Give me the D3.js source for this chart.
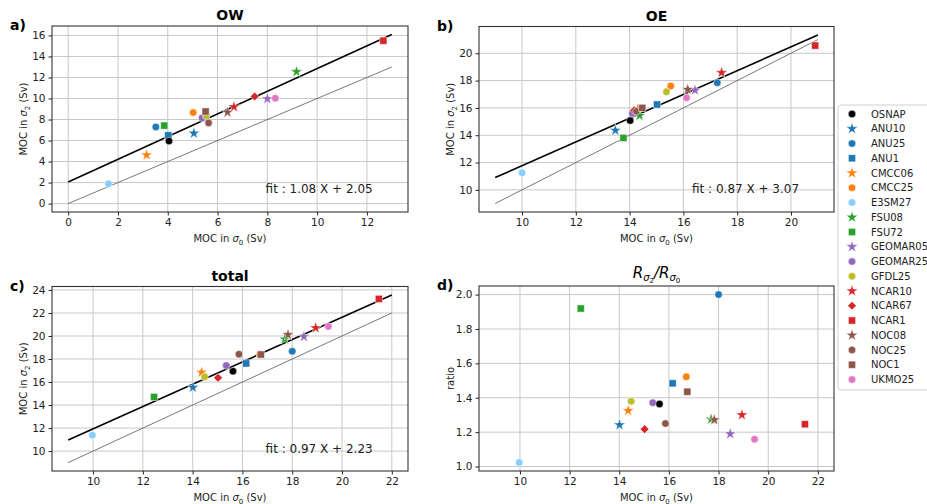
<!DOCTYPE html>
<html>
<head>
<meta charset="utf-8">
<script src="https://cdn.jsdelivr.net/npm/d3@7"></script>
<style>
  body { margin: 0; background: #fff; }
  svg { font-family: "DejaVu Sans", sans-serif; }
</style>
</head>
<body>
<svg id="chart" width="927" height="504"></svg>
<script>
// model names, colours and marker kinds (OSNAP is the observation)
const names = ["OSNAP", "ANU10", "ANU25", "ANU1", "CMCC06", "CMCC25", "E3SM27", "FSU08", "FSU72",
  "GEOMAR05", "GEOMAR25", "GFDL25", "NCAR10", "NCAR67", "NCAR1", "NOC08", "NOC25", "NOC1", "UKMO25"];
const colors = ["#000000", "#1f77b4", "#1f77b4", "#1f77b4", "#ff7f0e", "#ff7f0e", "#87cefa", "#2ca02c", "#2ca02c",
  "#9467bd", "#9467bd", "#bcbd22", "#d62728", "#d62728", "#d62728", "#8c564b", "#8c564b", "#8c564b", "#e377c2"];
const shapes = ["o", "*", "o", "s", "*", "o", "o", "*", "s", "*", "o", "o", "*", "D", "s", "*", "o", "s", "o"];

// MOC in sigma0 / sigma2 (Sv)
const owX = [4.05, 5.05, 3.52, 4.02, 3.15, 5.02, 1.62, 9.17, 3.86, 8.0, 5.38, 5.55, 6.66, 7.49, 12.66, 6.4, 5.64, 5.52, 8.32];
const owY = [5.95, 6.69, 7.29, 6.5, 4.62, 8.66, 1.88, 12.55, 7.42, 9.97, 8.15, 8.35, 9.2, 10.19, 15.5, 8.69, 7.68, 8.76, 10.03];
const oeX = [14.02, 13.47, 17.26, 15.02, 14.3, 15.53, 10.0, 14.37, 13.77, 16.43, 14.1, 15.37, 17.42, 14.17, 20.9, 16.16, 14.25, 14.47, 16.12];
const oeY = [15.07, 14.36, 17.84, 16.25, 15.9, 17.6, 11.25, 15.44, 13.8, 17.3, 15.6, 17.18, 18.58, 15.83, 20.56, 17.35, 15.75, 16.0, 16.74];
const totX = [15.62, 14.01, 18.0, 16.15, 14.36, 16.7, 9.97, 17.7, 12.45, 18.47, 15.35, 14.48, 18.94, 15.02, 21.48, 17.83, 15.86, 16.74, 19.45];
const totY = [16.94, 15.53, 18.67, 17.62, 16.84, 18.4, 11.38, 19.73, 14.7, 19.95, 17.43, 16.45, 20.7, 16.37, 23.22, 20.11, 18.42, 18.39, 20.83];
const ratio = [1.364, 1.242, 2.0, 1.484, 1.325, 1.522, 1.023, 1.275, 1.919, 1.19, 1.371, 1.379, 1.30, 1.217, 1.246, 1.271, 1.25, 1.435, 1.159];

// linear fits (slope, intercept, x range)
const fits = {
  OW: [1.08, 2.05, 0, 13],
  OE: [0.87, 3.07, 9, 21],
  total: [0.97, 2.23, 9, 22]
};

const svg = d3.select("#chart");
const tickCol = "#222";

const panels = [
  { id: "a)", title: "OW", xs: owX, ys: owY, fit: "OW", box: [52, 408, 26, 212],
    xd: [-0.65, 13.65], yd: [-0.8, 16.9], xt: d3.range(0, 13, 2), yt: d3.range(0, 17, 2), ylab: "moc" },
  { id: "b)", title: "OE", xs: oeX, ys: oeY, fit: "OE", box: [479, 834, 26.5, 212],
    xd: [8.4, 21.6], yd: [8.38, 21.96], xt: d3.range(10, 21, 2), yt: d3.range(10, 21, 2), ylab: "moc" },
  { id: "c)", title: "total", xs: totX, ys: totY, fit: "total", box: [52, 408, 286.5, 471],
    xd: [8.35, 22.65], yd: [8.27, 24.3], xt: d3.range(10, 23, 2), yt: d3.range(10, 25, 2), ylab: "moc" },
  { id: "d)", title: null, xs: totX, ys: ratio, fit: null, box: [479, 834, 286, 471],
    xd: [8.35, 22.65], yd: [0.974, 2.05], xt: d3.range(10, 23, 2), yt: [1.0, 1.2, 1.4, 1.6, 1.8, 2.0], ylab: "ratio" }
];

function symbolPath(kind) {
  if (kind === "*") return d3.symbol(d3.symbolStar, 44)();
  if (kind === "s") return d3.symbol(d3.symbolSquare, 52)();
  if (kind === "D") return d3.symbol(d3.symbolSquare, 38)();
  return d3.symbol(d3.symbolCircle, 44)();
}

function sigmaLabel(sel, sub) {
  sel.append("tspan").text("MOC in ");
  sel.append("tspan").attr("font-style", "italic").text("σ");
  sel.append("tspan").attr("font-size", "7px").attr("dy", 2.5).text(sub);
  sel.append("tspan").attr("dy", -2.5).text(" (Sv)");
}

panels.forEach(p => {
  const [x0, x1, y0, y1] = p.box;
  const x = d3.scaleLinear().domain(p.xd).range([x0, x1]);
  const y = d3.scaleLinear().domain(p.yd).range([y1, y0]);
  const g = svg.append("g");

  // grid
  g.append("g").selectAll("line").data(p.xt).join("line")
    .attr("x1", d => x(d)).attr("x2", d => x(d)).attr("y1", y0).attr("y2", y1)
    .attr("stroke", "#c8c8c8").attr("stroke-width", 1);
  g.append("g").selectAll("line").data(p.yt).join("line")
    .attr("x1", x0).attr("x2", x1).attr("y1", d => y(d)).attr("y2", d => y(d))
    .attr("stroke", "#c8c8c8").attr("stroke-width", 1);

  // axes
  const fmt = p.ylab === "ratio" ? d3.format(".1f") : d3.format("d");
  const ax = g.append("g").attr("transform", `translate(0,${y1})`)
    .call(d3.axisBottom(x).tickValues(p.xt).tickSize(3.5).tickPadding(3).tickFormat(d3.format("d")));
  const ay = g.append("g").attr("transform", `translate(${x0},0)`)
    .call(d3.axisLeft(y).tickValues(p.yt).tickSize(3.5).tickPadding(3).tickFormat(fmt));
  [ax, ay].forEach(a => {
    a.select(".domain").remove();
    a.selectAll("line").attr("stroke", tickCol);
    a.selectAll("text").attr("font-size", "10.5px").attr("fill", tickCol).attr("font-family", "DejaVu Sans");
  });

  // fit and 1:1 lines
  if (p.fit) {
    const [m, b, fx0, fx1] = fits[p.fit];
    g.append("line")
      .attr("x1", x(fx0)).attr("y1", y(fx0)).attr("x2", x(fx1)).attr("y2", y(fx1))
      .attr("stroke", "#555").attr("stroke-width", 0.8);
    g.append("line")
      .attr("x1", x(fx0)).attr("y1", y(m * fx0 + b)).attr("x2", x(fx1)).attr("y2", y(m * fx1 + b))
      .attr("stroke", "#000").attr("stroke-width", 1.6);
    g.append("text")
      .attr("x", x0 + 0.6 * (x1 - x0)).attr("y", y1 - 0.1 * (y1 - y0))
      .attr("font-size", "12px").attr("fill", tickCol)
      .text(`fit : ${m.toFixed(2)} X + ${b.toFixed(2)}`);
  }

  // markers: models first, OSNAP on top
  const order = d3.range(1, names.length).concat([0]);
  g.append("g").selectAll("path").data(order).join("path")
    .attr("d", i => symbolPath(shapes[i]))
    .attr("transform", i => `translate(${x(p.xs[i])},${y(p.ys[i])})` + (shapes[i] === "D" ? " rotate(45)" : ""))
    .attr("fill", i => colors[i])
    .attr("stroke", "#fff").attr("stroke-width", 0.5);

  // frame
  g.append("rect").attr("x", x0).attr("y", y0).attr("width", x1 - x0).attr("height", y1 - y0)
    .attr("fill", "none").attr("stroke", "#333").attr("stroke-width", 1.1);

  // labels
  const xl = g.append("text").attr("x", (x0 + x1) / 2).attr("y", y1 + 30)
    .attr("text-anchor", "middle").attr("font-size", "10px").attr("fill", tickCol);
  sigmaLabel(xl, "0");
  const yl = g.append("text")
    .attr("transform", `translate(${x0 - 25},${(y0 + y1) / 2}) rotate(-90)`)
    .attr("text-anchor", "middle").attr("font-size", "10px").attr("fill", tickCol);
  if (p.ylab === "ratio") yl.text("ratio");
  else sigmaLabel(yl, "2");

  const tt = g.append("text").attr("x", (x0 + x1) / 2).attr("y", y0 - 6)
    .attr("text-anchor", "middle").attr("font-size", "14px");
  if (p.title) {
    tt.attr("font-weight", "bold").text(p.title);
  } else {
    tt.attr("font-style", "italic").attr("font-size", "15px").attr("y", y0 - 8);
    tt.append("tspan").text("R");
    tt.append("tspan").attr("font-size", "10px").attr("dy", 3).text("σ");
    tt.append("tspan").attr("font-size", "7px").attr("font-style", "normal").attr("dy", 1.5).text("2");
    tt.append("tspan").attr("dy", -4.5).text("/R");
    tt.append("tspan").attr("font-size", "10px").attr("dy", 3).text("σ");
    tt.append("tspan").attr("font-size", "7px").attr("font-style", "normal").attr("dy", 1.5).text("0");
  }
  g.append("text").attr("x", x0 - 42).attr("y", y0 + 4)
    .attr("font-size", "14px").attr("font-weight", "bold").text(p.id);
});

// legend
const lg = svg.append("g").attr("transform", "translate(838,105)");
lg.append("rect").attr("x", 0).attr("y", 0).attr("width", 100).attr("height", 285)
  .attr("rx", 3).attr("fill", "#fff").attr("fill-opacity", 0.85)
  .attr("stroke", "#d0d0d0").attr("stroke-width", 1);
const rows = lg.selectAll("g.row").data(names).join("g")
  .attr("class", "row")
  .attr("transform", (d, i) => `translate(0,${9 + i * 14.75})`);
rows.append("path")
  .attr("d", (d, i) => symbolPath(shapes[i]))
  .attr("transform", (d, i) => "translate(14,0)" + (shapes[i] === "D" ? " rotate(45)" : ""))
  .attr("fill", (d, i) => colors[i]).attr("stroke", "#fff").attr("stroke-width", 0.5);
rows.append("text").attr("x", 33).attr("y", 3.6)
  .attr("font-size", "10px").attr("fill", tickCol).text(d => d);
</script>
</body>
</html>
